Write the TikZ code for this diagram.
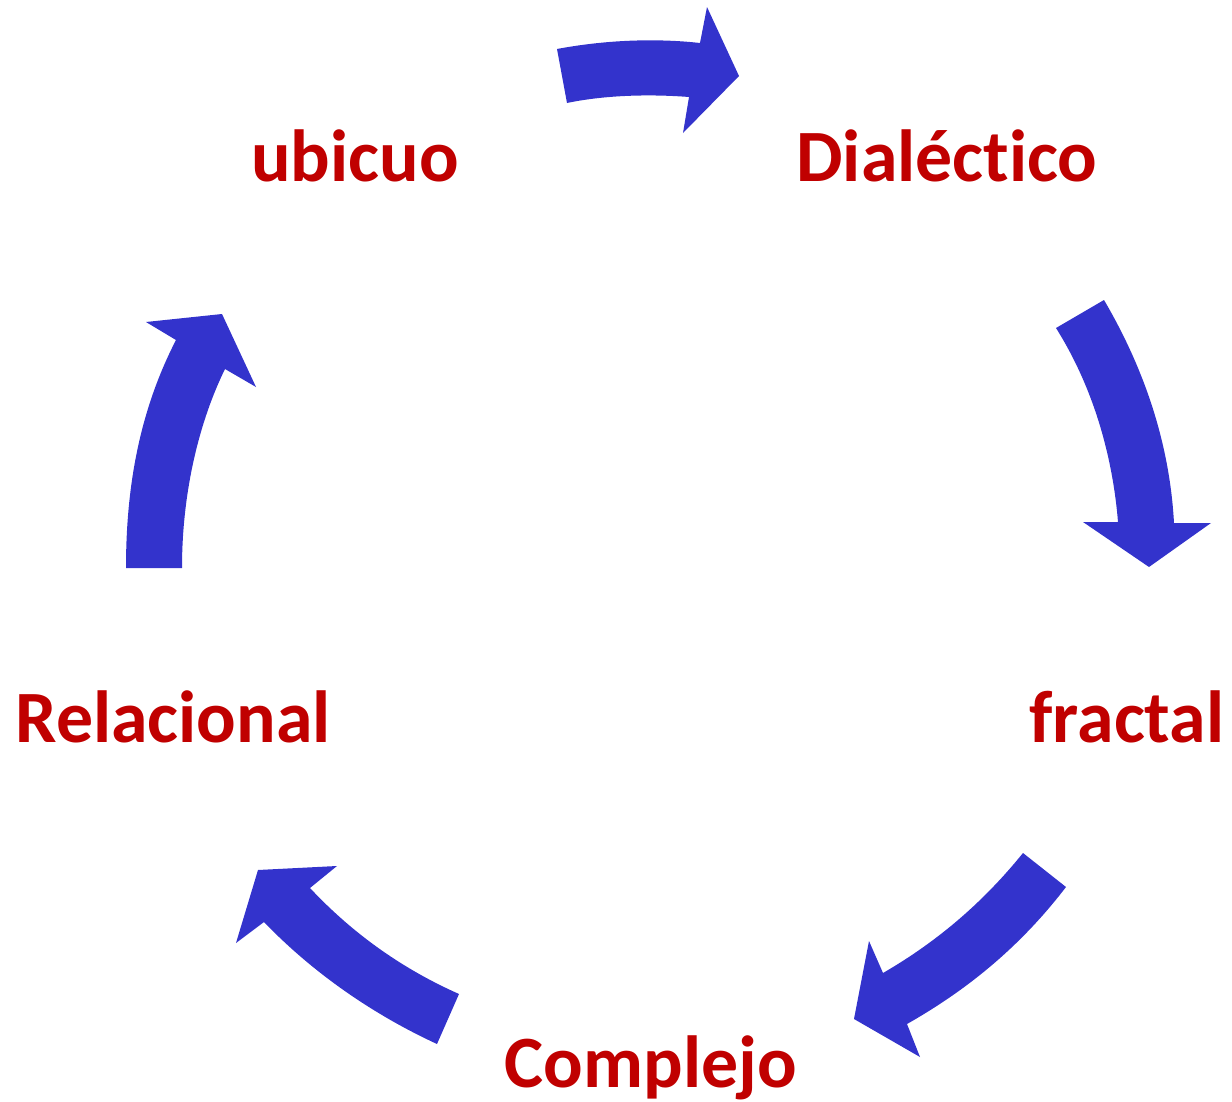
\documentclass[tikz,border=0pt]{standalone}
\usepackage{fontspec}
\setmainfont{Carlito}[Ligatures=NoCommon]
\usetikzlibrary{positioning}

\definecolor{cyclered}{HTML}{C00000}
\definecolor{cycleblue}{HTML}{3333CC}

\begin{document}
\begin{tikzpicture}[x=0.02cm, y=-0.02cm,
    word/.style={text=cyclered, font=\fontsize{42}{50}\selectfont\bfseries, anchor=base, inner sep=0pt},
    blockarrow/.style={fill=cycleblue}]
    \useasboundingbox (0,0) rectangle (1232,1102);

    % Labels
    \node[word] (ubicuo) at (355,181) {ubicuo};
    \node[word] (dialectico) at (947,181) {Dialéctico};
    \node[word] (fractal) at (1127,742) {fractal};
    \node[word] (complejo) at (651,1087) {Complejo};
    \node[word] (relacional) at (173,742) {Relacional};

    % Curved block arrows
    \fill[blockarrow] (557,49) .. controls (605,40) and (655,38) .. (700,43) -- (707,7) -- (739,76)
        -- (683,133) -- (689,97) .. controls (650,94) and (605,95) .. (567,103) -- cycle;
    \fill[blockarrow] (1104,300) .. controls (1148,375) and (1170,450) .. (1174,523) -- (1211,523) -- (1149,567)
        -- (1083,522) -- (1118,522) .. controls (1113,460) and (1095,390) .. (1056,328) -- cycle;
    \fill[blockarrow] (1066,887) .. controls (1020,947) and (967,990) .. (907,1024) -- (920,1057) -- (854,1019)
        -- (869,941) -- (883,973) .. controls (940,940) and (985,900) .. (1023,853) -- cycle;
    \fill[blockarrow] (437,1044) .. controls (372,1014) and (312,972) .. (264,922) -- (236,943) -- (258,870)
        -- (337,866) -- (310,888) .. controls (355,936) and (405,970) .. (459,994) -- cycle;
    \fill[blockarrow] (126,568) .. controls (126,485) and (140,410) .. (176,340) -- (146,322) -- (222,314)
        -- (256,387) -- (225,369) .. controls (200,420) and (182,490) .. (182,568) -- cycle;
\end{tikzpicture}
\end{document}
